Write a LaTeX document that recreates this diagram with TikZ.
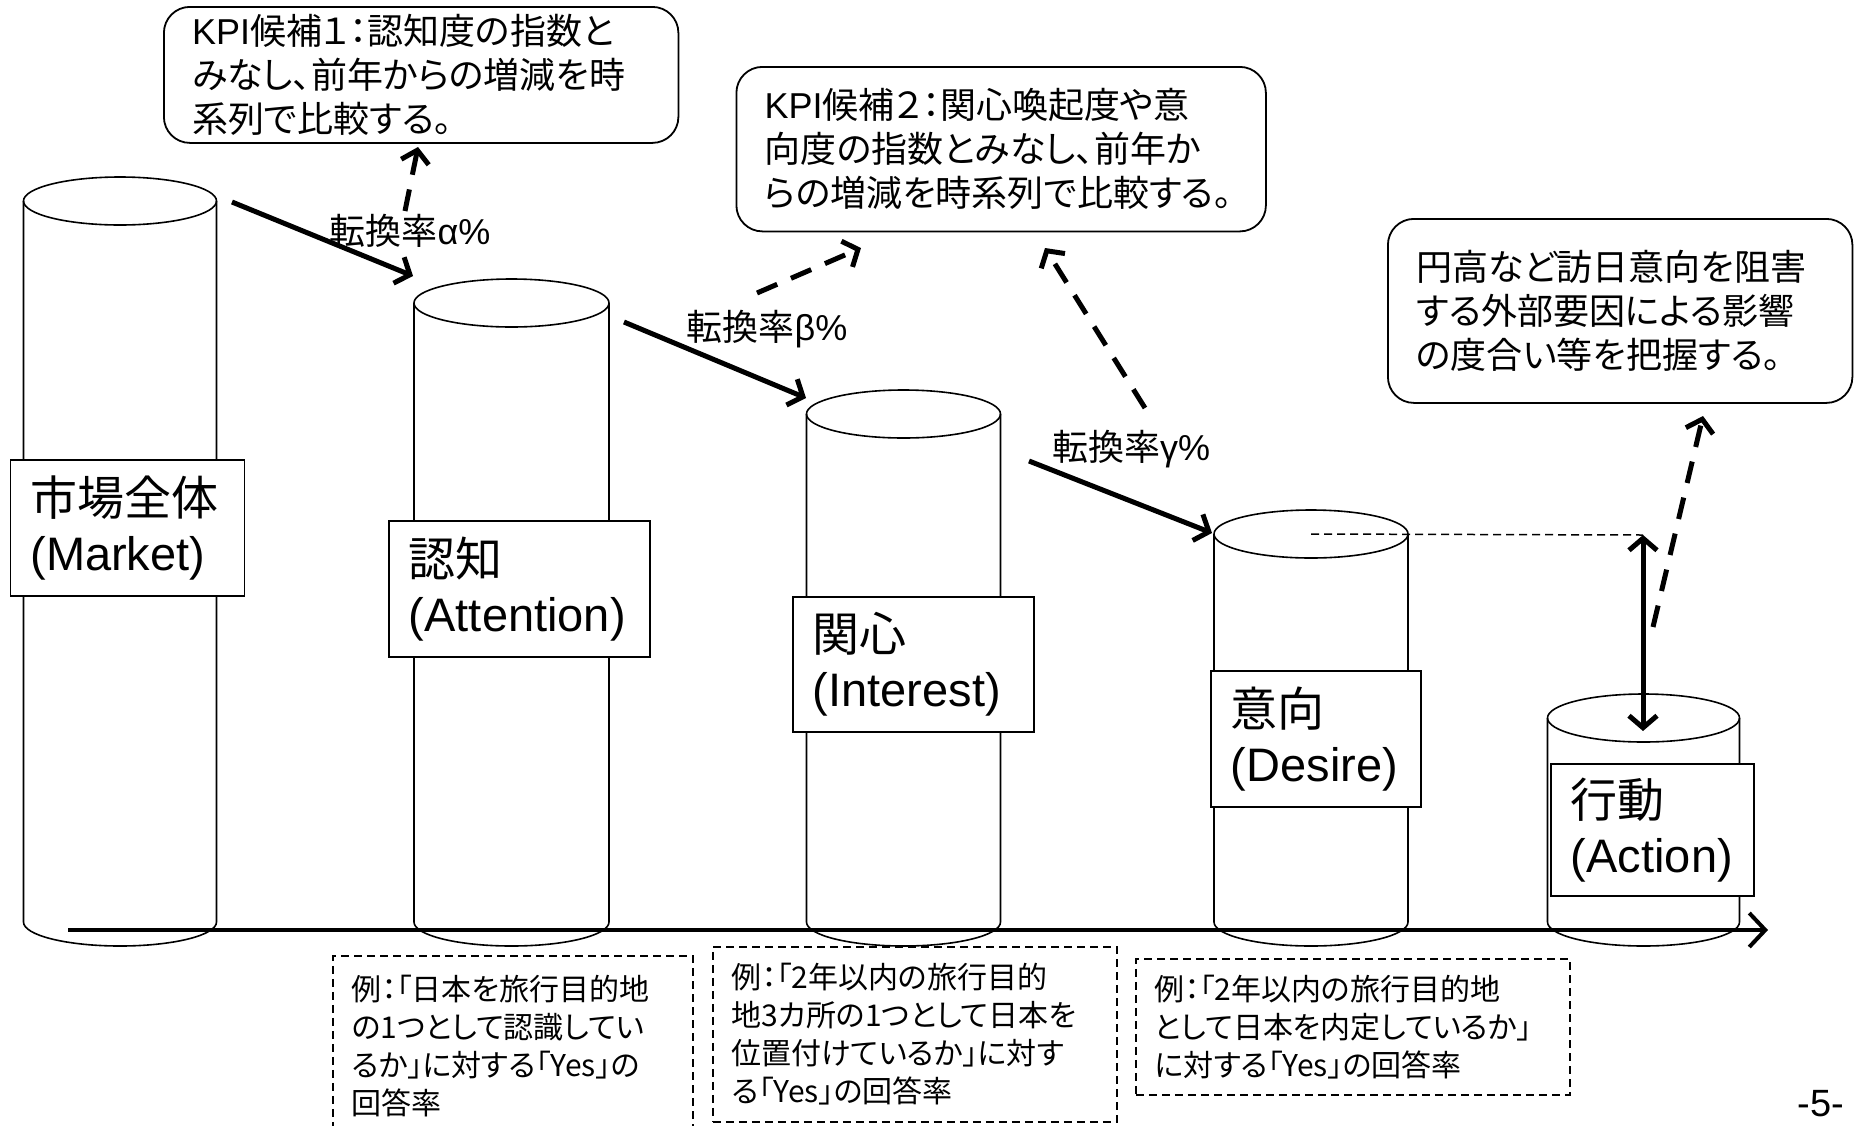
\documentclass[tikz,border=0pt]{standalone}
\usepackage{fontspec}
\setmainfont{Liberation Sans}
\newfontfamily\jp[RawFeature=+palt]{Noto Sans CJK JP}
\usetikzlibrary{arrows.meta}

\newcommand\mycyl[5]{% name, cx, rx, ytop, ybot
  \draw[cyl] (#2-#3,-#4) -- (#2-#3,-#5) arc[start angle=180,end angle=360,x radius=#3,y radius=24] -- (#2+#3,-#4);
  \draw[cyl] (#2,-#4) ellipse[x radius=#3, y radius=24];
  \coordinate (#1top) at (#2,-#4);
}

\begin{document}
\begin{tikzpicture}[x=1pt,y=1pt,
  cyl/.style={line width=1.6pt},
  lbox/.style={draw, line width=1.8pt, fill=white, anchor=north west, inner xsep=20pt, inner ysep=0pt, align=left, font=\fontsize{47}{55}\selectfont},
  kbox/.style={draw, line width=1.8pt, fill=white, rounded corners=26pt, anchor=north west, inner xsep=28pt, inner ysep=0pt, align=left, font=\fontsize{36}{44}\selectfont},
  dbox/.style={draw, line width=1.5pt, dash pattern=on 8pt off 5pt, anchor=north west, inner xsep=19pt, inner ysep=0pt, align=left, font=\fontsize{30}{38}\selectfont},
  conv/.style={line width=5pt, -{Straight Barb[length=12pt,width=28pt]}},
  kpiarrow/.style={line width=5pt, dash pattern=on 22pt off 15pt, -{Straight Barb[length=12pt,width=28pt]}},
  rate/.style={font=\fontsize{36}{44}\selectfont, inner sep=0pt},
]
\useasboundingbox (0,0) rectangle (1854,-1125);
\clip (0,0) rectangle (1854,-1125);

% cylinders
\mycyl{c1}{120}{96.5}{201}{922}
\mycyl{c2}{511.5}{97.5}{303}{922}
\mycyl{c3}{903.5}{97}{414}{922}
\mycyl{c4}{1311}{97}{534}{922}
\mycyl{c5}{1643.5}{96}{718}{922}

% axis
\coordinate (ax0) at (68,-930);
\coordinate (ax1) at (1768,-930);
\draw[line width=4pt, -{Straight Barb[length=16pt,width=34pt]}] (ax0) -- (ax1);

% stage labels
\node[lbox, minimum width=234pt, minimum height=136pt, text width=194pt] (lb1) at (9.5,-459) {{\jp 市場全体}\\(Market)};
\node[lbox, minimum width=261pt, minimum height=136pt, text width=221pt] (lb2) at (388,-520) {{\jp 認知}\\(Attention)};
\node[lbox, minimum width=241pt, minimum height=135pt, text width=201pt] (lb3) at (792,-596) {{\jp 関心}\\(Interest)};
\node[lbox, minimum width=210pt, minimum height=136pt, text width=170pt] (lb4) at (1210,-670) {{\jp 意向}\\(Desire)};
\node[lbox, minimum width=203pt, minimum height=132pt, text width=163pt] (lb5) at (1550,-763) {{\jp 行動}\\(Action)};

% KPI boxes
\node[kbox, minimum width=514.5pt, minimum height=136pt, text width=458pt] (k1) at (163,-6)
  {KPI{\jp 候補１：認知度の指数と}\\{\jp みなし、前年からの増減を時}\\{\jp 系列で比較する。}};
\node[kbox, minimum width=529.5pt, minimum height=164.5pt, text width=473pt] (k2) at (735.5,-66)
  {KPI{\jp 候補２：関心喚起度や意}\\{\jp 向度の指数とみなし、前年か}\\{\jp らの増減を時系列で比較する。}};
\node[kbox, minimum width=464.5pt, minimum height=184pt, text width=408pt] (k3) at (1387,-218)
  {{\jp 円高など訪日意向を阻害}\\{\jp する外部要因による影響}\\{\jp の度合い等を把握する。}};

% example boxes
\node[dbox, minimum width=360pt, minimum height=180pt, text width=322pt] (e1) at (332,-955)
  {{\jp 例：「日本を旅行目的地}\\{\jp の1つとして認識してい}\\{\jp るか」に対する「Yes」の}\\{\jp 回答率}};
\node[dbox, minimum width=404pt, minimum height=175pt, text width=366pt] (e2) at (712,-946)
  {{\jp 例：「2年以内の旅行目的}\\{\jp 地3カ所の1つとして日本を}\\{\jp 位置付けているか」に対す}\\{\jp る「Yes」の回答率}};
\node[dbox, minimum width=434pt, minimum height=136pt, text width=396pt] (e3) at (1135,-958)
  {{\jp 例：「2年以内の旅行目的地}\\{\jp として日本を内定しているか」}\\{\jp に対する「Yes」の回答率}};

% conversion arrows
\coordinate (a1s) at (232,-202); \coordinate (a1e) at (413,-276);
\coordinate (a2s) at (624,-322); \coordinate (a2e) at (806,-398);
\coordinate (a3s) at (1029,-461); \coordinate (a3e) at (1212,-533);
\draw[conv] (a1s) -- (a1e);
\draw[conv] (a2s) -- (a2e);
\draw[conv] (a3s) -- (a3e);
\node[rate] (r1) at (410,-231) {{\jp 転換率}α\%};
\node[rate] (r2) at (767,-329) {{\jp 転換率}β\%};
\node[rate] (r3) at (1131,-449) {{\jp 転換率}γ\%};

% dashed KPI arrows
\coordinate (d1s) at (405,-211); \coordinate (d1e) at (418,-147);
\coordinate (d2s) at (757,-293); \coordinate (d2e) at (861,-248);
\coordinate (d3s) at (1145,-408); \coordinate (d3e) at (1045,-248);
\coordinate (d4s) at (1653,-627); \coordinate (d4e) at (1703,-416);
\draw[kpiarrow] (d1s) -- (d1e);
\draw[kpiarrow] (d2s) -- (d2e);
\draw[kpiarrow] (d3s) -- (d3e);
\draw[kpiarrow] (d4s) -- (d4e);

% gap marker
\coordinate (gtop) at (1643,-535);
\coordinate (gbot) at (1643,-731);
\draw[line width=1.5pt, dash pattern=on 8pt off 5pt] (c4top) -- (gtop);
\draw[line width=5pt, {Straight Barb[length=12pt,width=28pt]}-{Straight Barb[length=12pt,width=28pt]}] (gtop) -- (gbot);

% page number
\node[font=\fontsize{38}{44}\selectfont, inner sep=0pt] (pg) at (1821,-1104) {-5-};
\end{tikzpicture}
\end{document}
